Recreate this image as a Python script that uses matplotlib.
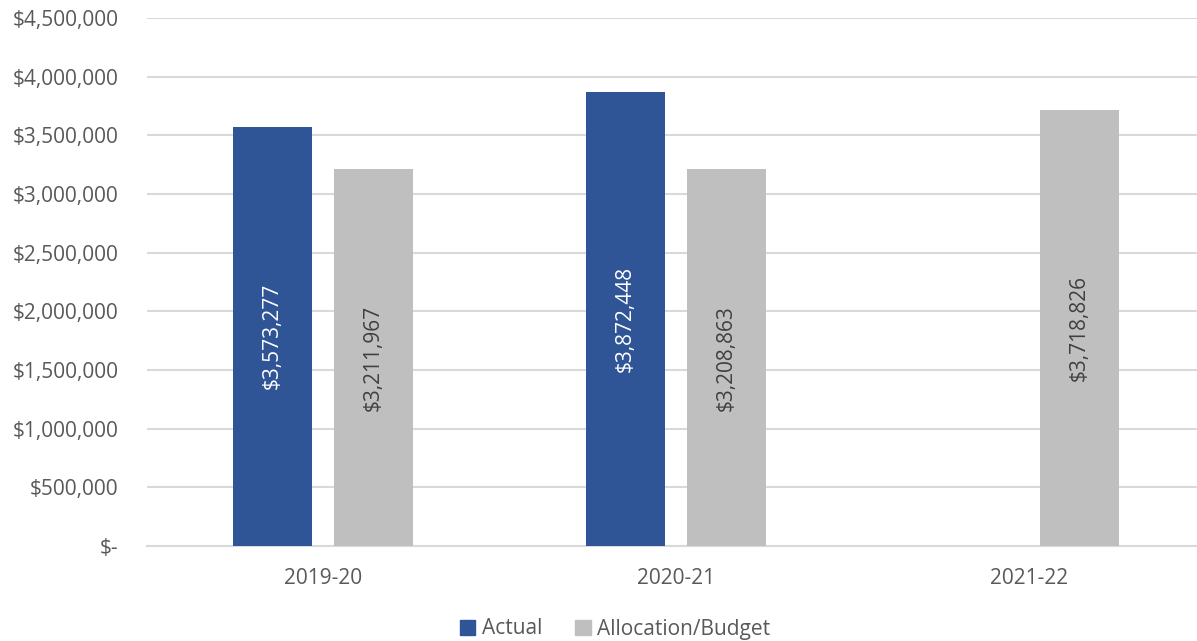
import matplotlib
matplotlib.use("Agg")
import matplotlib.pyplot as plt
import numpy as np
from matplotlib.ticker import FuncFormatter
from matplotlib.patches import Patch

categories = ["2019-20", "2020-21", "2021-22"]
actual = [3573277, 3872448, None]
allocation = [3211967, 3208863, 3718826]
series_names = ["Actual", "Allocation/Budget"]

blue = "#2F5597"
gray = "#BFBFBF"
text_col = "#595959"

plt.rcParams['font.family'] = ['Open Sans', 'DejaVu Sans']

fig = plt.figure(figsize=(11.97, 6.41), dpi=100)
ax = fig.add_axes([146.5/1197, 95/641, 1059/1197, 528/641])

x = np.arange(len(categories))
w = 0.224
off = 0.143

for i, v in enumerate(actual):
    if v is None:
        continue
    ax.bar(x[i] - off, v, width=w, color=blue, zorder=3)
    ax.text(x[i] - off, v / 2, f"${v:,.0f}", rotation=90, ha="center", va="center",
            color="white", fontsize=15)
for i, v in enumerate(allocation):
    ax.bar(x[i] + off, v, width=w, color=gray, zorder=3)
    ax.text(x[i] + off, v / 2, f"${v:,.0f}", rotation=90, ha="center", va="center",
            color="#404040", fontsize=15)

ax.set_xlim(-0.5, 2.5)
ax.set_ylim(0, 4500000)
ax.set_yticks(np.arange(0, 4500001, 500000))
ax.yaxis.set_major_formatter(FuncFormatter(lambda v, p: "$-" if v == 0 else f"${v:,.0f}"))
ax.set_xticks(x)
ax.set_xticklabels(categories)
ax.tick_params(axis="both", length=0, labelsize=15, labelcolor=text_col)
ax.tick_params(axis="y", pad=20)
ax.tick_params(axis="x", pad=16)
ax.grid(axis="y", color="#D9D9D9", linewidth=1.5, zorder=0)
for s in ["top", "right", "left"]:
    ax.spines[s].set_visible(False)
ax.spines["bottom"].set_color("#D9D9D9")
ax.spines["bottom"].set_linewidth(1.5)

handles = [Patch(color=blue), Patch(color=gray)]
fig.legend(handles, series_names, loc="center", bbox_to_anchor=(615/1197, 1 - 629/641),
           ncol=2, frameon=False, fontsize=15, labelcolor=text_col,
           handlelength=0.75, handleheight=0.75, handletextpad=0.3, columnspacing=1.6)

fig.savefig("out.png", dpi=100)
